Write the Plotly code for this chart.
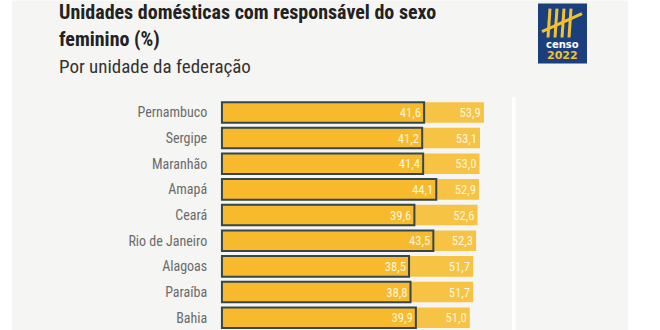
import plotly.graph_objects as go

estados = ["Pernambuco", "Sergipe", "Maranhão", "Amapá", "Ceará",
           "Rio de Janeiro", "Alagoas", "Paraíba", "Bahia"]
val_2010 = [41.6, 41.2, 41.4, 44.1, 39.6, 43.5, 38.5, 38.8, 39.9]
val_2022 = [53.9, 53.1, 53.0, 52.9, 52.6, 52.3, 51.7, 51.7, 51.0]

W, Hgt = 660, 330
L, R, T, B = 220, 148, 96.6, 0
PW, PH = W - L - R, Hgt - T - B
FONT = "Liberation Sans Narrow, Roboto Condensed, DejaVu Sans Condensed, Roboto, sans-serif"


def px(x):
    return (x - L) / PW


def py(y):
    return 1 - (y - T) / PH


idx = list(range(len(estados)))

fig = go.Figure()
fig.add_trace(go.Bar(
    y=idx, x=val_2022, orientation="h", width=0.8,
    marker=dict(color="#f6c345", line=dict(width=0)),
    texttemplate="%{x:.1f}", textposition="inside", insidetextanchor="end",
    textfont=dict(color="#fff6df", size=14, family=FONT),
    hoverinfo="skip", showlegend=False,
))
fig.add_trace(go.Bar(
    y=idx, x=val_2010, orientation="h", width=0.8,
    marker=dict(color="#f6ba2c", line=dict(color="#36464c", width=2)),
    texttemplate="%{x:.1f}", textposition="inside", insidetextanchor="end",
    textfont=dict(color="#fff6df", size=14, family=FONT),
    hoverinfo="skip", showlegend=False,
))

shapes = []
# page background panel
shapes.append(dict(type="rect", xref="paper", yref="paper", layer="below",
                   x0=px(12), x1=px(628), y0=py(330), y1=py(0),
                   fillcolor="#f5f5f4", line=dict(width=0)))
# white divider
shapes.append(dict(type="rect", xref="paper", yref="paper", layer="below",
                   x0=px(512), x1=px(515.5), y0=py(330), y1=py(97),
                   fillcolor="#ffffff", line=dict(width=0)))
# logo box
shapes.append(dict(type="rect", xref="paper", yref="paper", layer="above",
                   x0=px(538), x1=px(587), y0=py(63), y1=py(3),
                   fillcolor="#1b3f7c", line=dict(width=0)))
# tally marks
for xs in [548, 555, 562, 569]:
    shapes.append(dict(type="line", xref="paper", yref="paper", layer="above",
                       x0=px(xs), x1=px(xs + 2), y0=py(37), y1=py(8),
                       line=dict(color="#f2c12e", width=3)))
shapes.append(dict(type="line", xref="paper", yref="paper", layer="above",
                   x0=px(542), x1=px(582), y0=py(31), y1=py(13),
                   line=dict(color="#f2c12e", width=3)))

annotations = [
    dict(text="<b>Unidades domésticas com responsável do sexo</b>", x=px(57), y=py(-3),
         xref="paper", yref="paper", xanchor="left", yanchor="top", showarrow=False,
         font=dict(size=20, color="#222222", family=FONT)),
    dict(text="<b>feminino (%)</b>", x=px(57), y=py(24),
         xref="paper", yref="paper", xanchor="left", yanchor="top", showarrow=False,
         font=dict(size=20, color="#222222", family=FONT)),
    dict(text="Por unidade da federação", x=px(57), y=py(53),
         xref="paper", yref="paper", xanchor="left", yanchor="top", showarrow=False,
         font=dict(size=19, color="#333333", family=FONT)),
    dict(text="<b>censo</b>", x=px(562.5), y=py(44.5),
         xref="paper", yref="paper", xanchor="center", yanchor="middle", showarrow=False,
         font=dict(size=10, color="#ffffff", family="DejaVu Sans, sans-serif")),
    dict(text="<b>2022</b>", x=px(562.5), y=py(55.5),
         xref="paper", yref="paper", xanchor="center", yanchor="middle", showarrow=False,
         font=dict(size=11, color="#f2c12e", family="DejaVu Sans, sans-serif")),
]

fig.update_layout(
    width=W, height=Hgt,
    margin=dict(l=L, r=R, t=T, b=B, pad=0),
    paper_bgcolor="#ffffff", plot_bgcolor="rgba(0,0,0,0)",
    barmode="overlay", separators=",.",
    shapes=shapes, annotations=annotations,
    xaxis=dict(range=[-0.4, PW / 4.86 - 0.4], visible=False, fixedrange=True),
    yaxis=dict(range=[8.48, -0.6], tickmode="array", tickvals=idx, ticktext=estados,
               showgrid=False, zeroline=False, showline=False,
               ticks="outside", ticklen=9, tickcolor="rgba(0,0,0,0)",
               tickfont=dict(size=14, color="#6b6b6b", family=FONT), fixedrange=True),
    uniformtext=dict(mode="show", minsize=8),
)

fig.write_html("out.html")
